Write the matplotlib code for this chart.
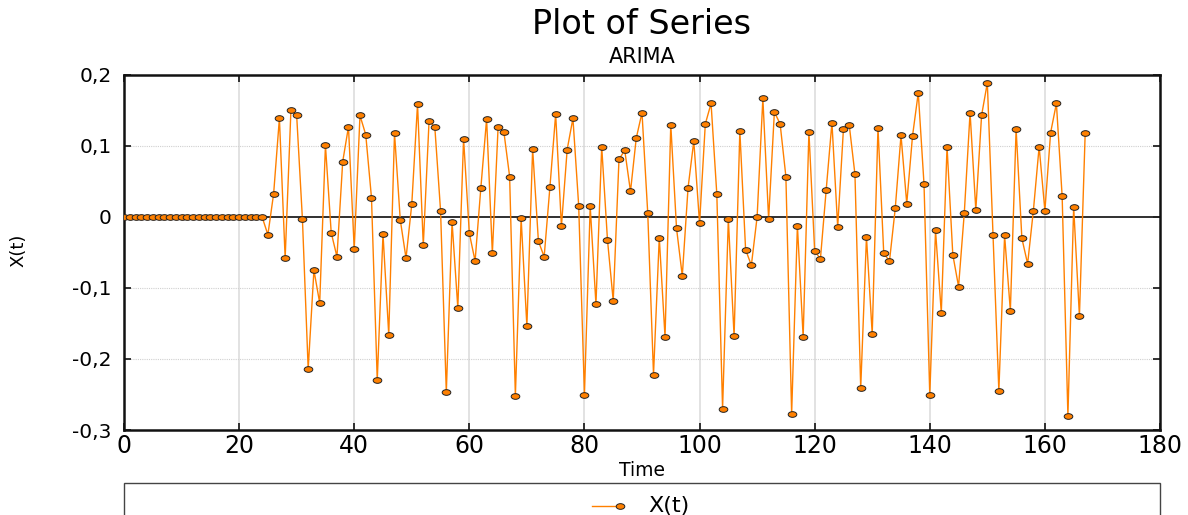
#Importing Libraries
import numpy as np
import matplotlib
matplotlib.use("Agg")
import matplotlib.pyplot as plt
from matplotlib.path import Path
from matplotlib.lines import Line2D
from matplotlib.patches import Rectangle
from matplotlib.ticker import FuncFormatter, MultipleLocator
import matplotlib.transforms as mtransforms

#Series values X(t), t = 0 .. 167
time = list(range(168))
x_t = [
    0.0, 0.0, 0.0, 0.0, 0.0, 0.0, 0.0, 0.0, 0.0, 0.0,
    0.0, 0.0, 0.0, 0.0, 0.0, 0.0, 0.0, 0.0, 0.0, 0.0,
    0.0, 0.0, 0.0, 0.0, 0.0,
    -0.025, 0.033, 0.139, -0.058, 0.150, 0.143, -0.003, -0.214, -0.075, -0.121,
    0.101, -0.022, -0.056, 0.078, 0.127, -0.045, 0.143, 0.116, 0.027, -0.230,
    -0.024, -0.166, 0.118, -0.004, -0.058, 0.018, 0.159, -0.040, 0.135, 0.127,
    0.009, -0.247, -0.007, -0.128, 0.110, -0.023, -0.062, 0.041, 0.138, -0.051,
    0.127, 0.120, 0.057, -0.252, -0.002, -0.154, 0.096, -0.034, -0.056, 0.042,
    0.145, -0.013, 0.095, 0.139, 0.016, -0.250, 0.015, -0.123, 0.099, -0.032,
    -0.118, 0.081, 0.094, 0.036, 0.111, 0.147, 0.005, -0.222, -0.029, -0.169,
    0.130, -0.016, -0.083, 0.041, 0.107, -0.009, 0.131, 0.160, 0.032, -0.270,
    -0.003, -0.168, 0.121, -0.046, -0.068, 0.000, 0.167, -0.003, 0.148, 0.131,
    0.057, -0.277, -0.012, -0.169, 0.120, -0.048, -0.059, 0.038, 0.133, -0.014,
    0.124, 0.130, 0.060, -0.241, -0.028, -0.165, 0.126, -0.051, -0.062, 0.012,
    0.115, 0.019, 0.114, 0.175, 0.046, -0.251, -0.019, -0.135, 0.099, -0.053,
    -0.098, 0.006, 0.147, 0.010, 0.143, 0.189, -0.026, -0.245, -0.026, -0.132,
    0.124, -0.030, -0.066, 0.009, 0.099, 0.009, 0.119, 0.160, 0.029, -0.280,
    0.014, -0.140, 0.118,
]

title_text = "Plot of Series"
subtitle_text = "ARIMA"
series_name = "X(t)"

plt.rcParams['font.family'] = ['DejaVu Sans']

orange = '#ff8000'

#Flattened ellipse marker
circle = Path.unit_circle()
ellipse = mtransforms.Affine2D().scale(1.0, 0.66).transform_path(circle)

fig = plt.figure(figsize=(11.88, 5.15), dpi=100)
ax = fig.add_axes([124/1188, 1-430/515, 1036/1188, 355/515])

#Grid: solid vertical, dotted horizontal, black zero line
for xv in range(20, 180, 20):
    ax.axvline(xv, color='#e2e2e2', lw=1.4, zorder=0)
for yv in [0.1, -0.1, -0.2]:
    ax.axhline(yv, color='#d0d0d0', lw=0.8, ls=(0, (1, 1)), zorder=0)
ax.axhline(0, color='#303030', lw=1.4, zorder=1)

ax.plot(time, x_t, color=orange, lw=1.0, marker=ellipse, markersize=6.2,
        markerfacecolor=orange, markeredgecolor='#222222', markeredgewidth=0.7,
        zorder=3)

ax.set_xlim(0, 180)
ax.set_ylim(-0.3, 0.2)
ax.xaxis.set_major_locator(MultipleLocator(20))
ax.yaxis.set_major_locator(MultipleLocator(0.1))

def comma_fmt(v, pos):
    if abs(v) < 1e-9:
        return "0"
    return ("%.1f" % v).replace(".", ",")

ax.yaxis.set_major_formatter(FuncFormatter(comma_fmt))

ax.tick_params(axis='both', direction='in', length=5, width=1.3, color='#222222',
               top=True, right=True)
ax.tick_params(axis='x', labelsize=17, pad=3)
ax.tick_params(axis='y', labelsize=14.5, pad=9)
for s in ax.spines.values():
    s.set_linewidth(1.8)
    s.set_color('#111111')

ax.set_xlabel("Time", fontsize=13.5, labelpad=2)
fig.text(18/1188, 1-250/515, series_name, rotation=90, fontsize=13,
         ha='center', va='center')

#Titles
fig.text(642/1188, 1-24/515, title_text, fontsize=24, ha='center', va='center')
fig.text(642/1188, 1-57/515, subtitle_text, fontsize=15, ha='center', va='center')

#Legend box below the plot
fig.add_artist(Rectangle((124/1188, -0.05), 1036/1188, 0.05+1-483/515,
                         transform=fig.transFigure, fill=False,
                         edgecolor='#444444', lw=1.0))
legend_y = 1-506/515
fig.add_artist(Line2D([592/1188, 620/1188], [legend_y, legend_y],
                      transform=fig.transFigure, color=orange, lw=1.0))
fig.add_artist(Line2D([620/1188], [legend_y], transform=fig.transFigure,
                      marker=ellipse, markersize=6.2, color=orange,
                      markerfacecolor=orange, markeredgecolor='#222222',
                      markeredgewidth=0.7))
fig.text(648/1188, legend_y, series_name, fontsize=16, ha='left', va='center')

fig.savefig("out.png", dpi=100)
